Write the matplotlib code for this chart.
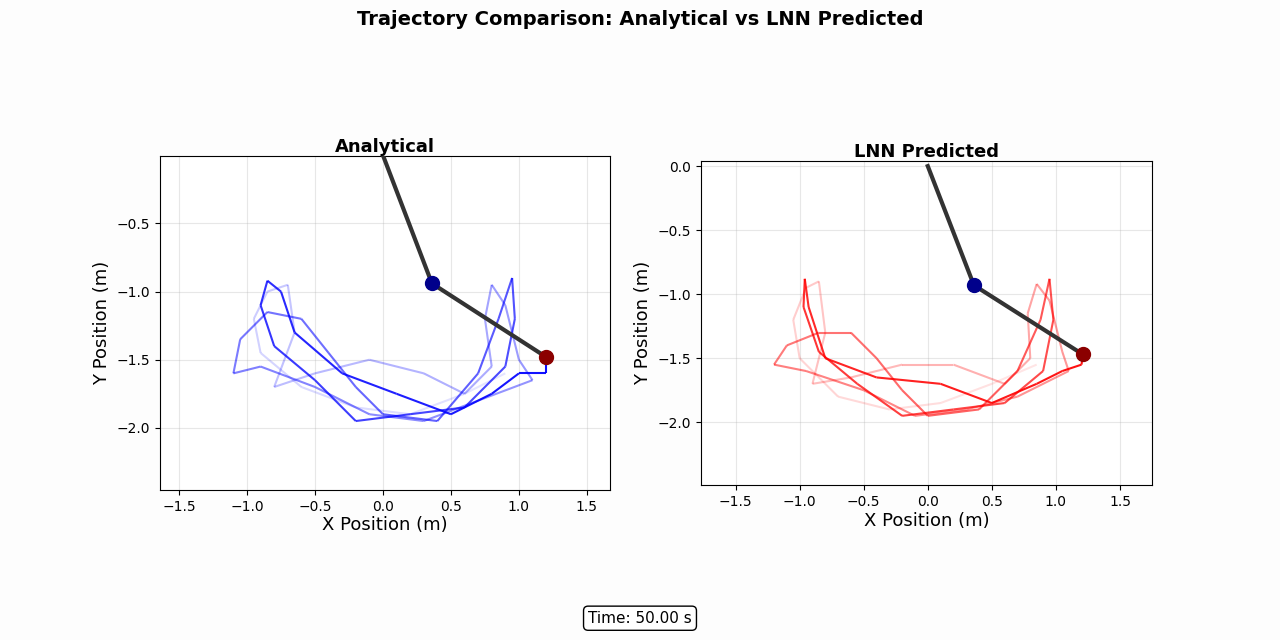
import numpy as np
import matplotlib.pyplot as plt
from matplotlib.collections import LineCollection
from matplotlib.colors import to_rgba

# bob-2 trail points (oldest -> newest)
ana_x = [0.9, 0.6, 0.2, -0.2, -0.6, -0.9, -0.95, -0.85, -0.7, -0.65, -0.8, -0.5, -0.1, 0.3, 0.6,
         0.8, 0.75, 0.8, 0.9, 1.0, 1.1, 0.7, 0.3, -0.1, -0.5, -0.9, -1.1, -1.05, -0.85, -0.6,
         -0.4, -0.2, 0.0, 0.4, 0.7, 0.85, 0.95, 0.97, 0.9, 0.6, 0.2, -0.2, -0.5, -0.8, -0.9,
         -0.85, -0.75, -0.65, -0.3, 0.1, 0.5, 0.8, 1.0, 1.2, 1.2]
ana_y = [-1.6, -1.75, -1.9, -1.85, -1.7, -1.45, -1.2, -1.0, -0.95, -1.3, -1.7, -1.6, -1.5, -1.6, -1.75,
         -1.55, -1.2, -0.95, -1.1, -1.5, -1.65, -1.8, -1.95, -1.9, -1.7, -1.55, -1.6, -1.35, -1.15, -1.2,
         -1.45, -1.7, -1.9, -1.95, -1.6, -1.2, -0.9, -1.2, -1.55, -1.85, -1.9, -1.95, -1.65, -1.4, -1.1,
         -0.92, -1.0, -1.3, -1.6, -1.75, -1.9, -1.75, -1.6, -1.6, -1.48]
lnn_x = [0.85, 0.5, 0.1, -0.3, -0.7, -1.0, -1.05, -0.95, -0.85, -0.8, -0.9, -0.6, -0.2, 0.2, 0.6,
         0.8, 0.78, 0.85, 0.95, 1.05, 1.1, 0.7, 0.3, -0.1, -0.5, -0.95, -1.2, -1.1, -0.85, -0.6,
         -0.4, -0.2, 0.0, 0.4, 0.7, 0.88, 0.95, 0.98, 0.9, 0.6, 0.2, -0.2, -0.55, -0.85, -0.97,
         -0.96, -0.93, -0.8, -0.4, 0.1, 0.5, 0.85, 1.05, 1.2, 1.21]
lnn_y = [-1.55, -1.7, -1.85, -1.9, -1.8, -1.5, -1.2, -0.95, -0.9, -1.3, -1.7, -1.65, -1.55, -1.55, -1.7,
         -1.5, -1.15, -0.92, -1.05, -1.45, -1.6, -1.8, -1.9, -1.95, -1.75, -1.6, -1.55, -1.4, -1.3, -1.3,
         -1.5, -1.75, -1.95, -1.9, -1.6, -1.2, -0.88, -1.2, -1.6, -1.85, -1.9, -1.95, -1.7, -1.45, -1.1,
         -0.88, -1.1, -1.5, -1.65, -1.7, -1.85, -1.7, -1.6, -1.55, -1.47]
ana_p1 = (0.36, -0.94)
lnn_p1 = (0.36, -0.93)

fig = plt.figure(figsize=(12.8, 6.4), dpi=100)
fig.patch.set_facecolor('#fdfdfd')
fig.suptitle('Trajectory Comparison: Analytical vs LNN Predicted', fontsize=14, fontweight='bold', y=0.985)

def panel(rect, xs, ys, p1, color, title, xlim, ylim):
    ax = fig.add_axes(rect)
    pts = np.column_stack([xs, ys])
    segs = np.stack([pts[:-1], pts[1:]], axis=1)
    n = len(segs)
    cols = [to_rgba(color, 0.1 + 0.85 * i / (n - 1)) for i in range(n)]
    ax.add_collection(LineCollection(segs, colors=cols, linewidths=1.5))
    ax.plot([0, p1[0], xs[-1]], [0, p1[1], ys[-1]], color='#333333', lw=3, zorder=3)
    ax.plot(p1[0], p1[1], 'o', color='darkblue', ms=10, zorder=4)
    ax.plot(xs[-1], ys[-1], 'o', color='darkred', ms=10, zorder=4)
    ax.set_xlim(*xlim)
    ax.set_ylim(*ylim)
    ax.set_xticks([-1.5, -1.0, -0.5, 0.0, 0.5, 1.0, 1.5])
    ax.tick_params(labelsize=10)
    ax.grid(True, alpha=0.3)
    ax.set_title(title, fontsize=13, fontweight='bold', pad=3)
    ax.set_xlabel('X Position (m)', fontsize=13, labelpad=2)
    ax.set_ylabel('Y Position (m)', fontsize=13)
    return ax

panel([160/1280, 1-490/640, 450/1280, 334/640], ana_x, ana_y, ana_p1, 'blue',
      'Analytical', (-1.64, 1.67), (-2.456, -0.005))
panel([701/1280, 1-485/640, 451/1280, 324/640], lnn_x, lnn_y, lnn_p1, 'red',
      'LNN Predicted', (-1.77, 1.75), (-2.49, 0.04))

fig.text(0.5, 0.027, 'Time: 50.00 s', ha='center', fontsize=11,
         bbox=dict(boxstyle='round', facecolor='white', edgecolor='black'))

fig.savefig('out.png', dpi=100, facecolor=fig.get_facecolor())
